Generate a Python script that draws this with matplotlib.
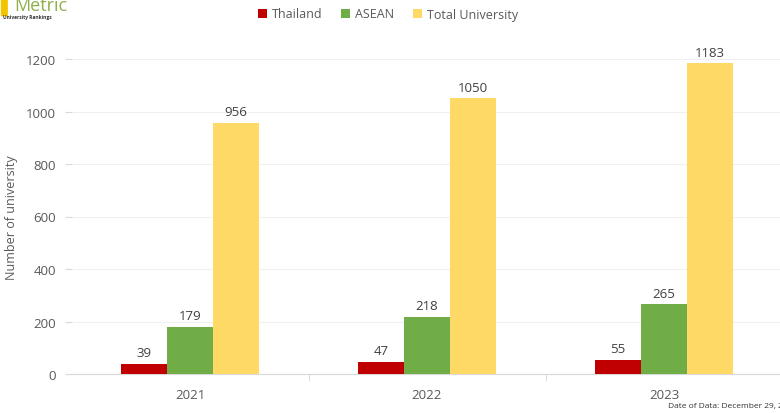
import matplotlib.pyplot as plt
import numpy as np

years = ["2021", "2022", "2023"]
series_names = ["Thailand", "ASEAN", "Total University"]
thailand = [39, 47, 55]
asean = [179, 218, 265]
total = [956, 1050, 1183]
colors = ["#C00000", "#70AD47", "#FFD966"]

plt.rcParams["font.family"] = ["Open Sans", "DejaVu Sans"]
grey = "#595959"

fig = plt.figure(figsize=(7.8, 4.14), dpi=100)
ax = fig.add_axes([71.5 / 780, 1 - 375 / 414, 711 / 780, 315 / 414])

x = np.arange(len(years))
w = 0.194
for i, (vals, name, c) in enumerate(zip([thailand, asean, total], series_names, colors)):
    bars = ax.bar(x + (i - 1) * w, vals, w, color=c, label=name, zorder=3)
    for b, v in zip(bars, vals):
        ax.text(b.get_x() + b.get_width() / 2, v + 18, str(v), ha="center", va="bottom",
                fontsize=9.5, color="#404040", clip_on=False)

ax.set_xlim(-0.5, 2.5)
ax.set_ylim(0, 1200)
ax.set_yticks(range(0, 1201, 200))
ax.set_xticks(x)
ax.set_xticklabels(years)
ax.set_xticks([0.5, 1.5], minor=True)
ax.tick_params(axis="x", which="major", length=0, pad=10, labelsize=9.5, colors=grey)
ax.tick_params(axis="x", which="minor", length=5, color="#D9D9D9", direction="out")
ax.tick_params(axis="y", length=5, color="#D9D9D9", labelsize=9.5, colors=grey, pad=6)
ax.grid(axis="y", color="#F0F0F0", linewidth=0.8, zorder=0)
for s in ["top", "right", "left"]:
    ax.spines[s].set_visible(False)
ax.spines["bottom"].set_color("#D9D9D9")
ax.set_ylabel("Number of university", fontsize=9, color=grey)
ax.yaxis.set_label_coords((18 - 71.5) / 711, 0.5)

fig.legend(loc="center", bbox_to_anchor=(388 / 780, 1 - 15 / 414), ncol=3, frameon=False,
           fontsize=9, handlelength=0.7, handleheight=0.7, columnspacing=1.5,
           handletextpad=0.4, labelcolor=grey)

# logo top-left
fig.text(0, 1 - 7 / 414, "\u258c", color="#F2C500", fontsize=13, va="center", ha="left")
fig.text(14 / 780, 1 - 6 / 414, "Metric", color="#8DB04A", fontsize=13, va="center", ha="left")
fig.text(3 / 780, 1 - 18 / 414, "University Rankings", color="#333333", fontsize=3.5,
         va="center", ha="left", fontweight="bold")

fig.text(668 / 780, 1 - 407 / 414, "Date of Data: December 29, 2023", color="#333333",
         fontsize=6, va="center", ha="left")

fig.savefig("out.png", dpi=100)
